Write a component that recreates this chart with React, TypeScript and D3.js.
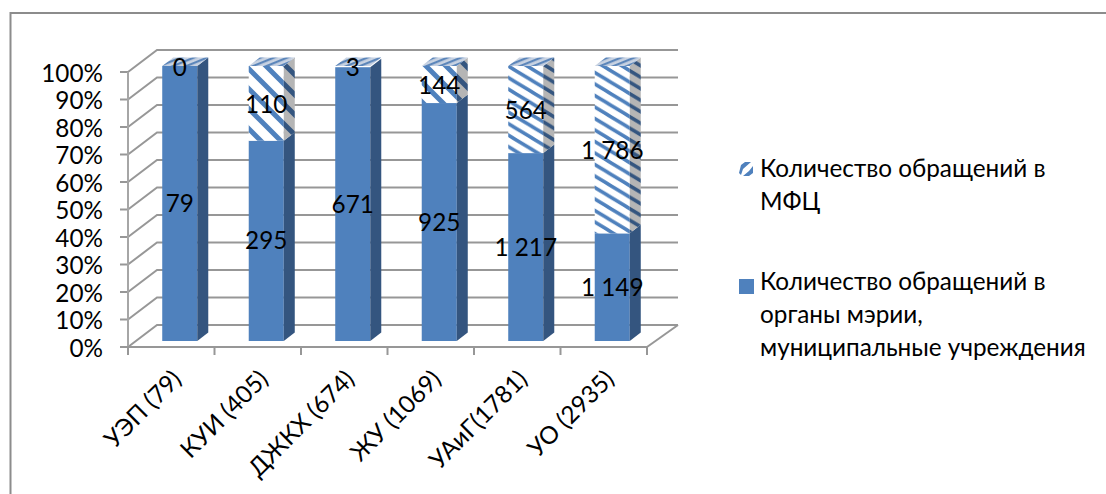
import { scaleBand, scaleLinear, stack, stackOffsetExpand, format } from 'd3'

// stacked 100% pseudo-3D columns, Excel style

const categories = ['УЭП (79)', 'КУИ (405)', 'ДЖКХ (674)', 'ЖУ (1069)', 'УАиГ(1781)', 'УО (2935)']
const organs = [79, 295, 671, 925, 1217, 1149]
const mfc = [0, 110, 3, 144, 564, 1786]
const yTicks = [0, 10, 20, 30, 40, 50, 60, 70, 80, 90, 100]
const legendMfc = ['Количество обращений в', 'МФЦ']
const legendOrgans = ['Количество обращений в', 'органы мэрии,', 'муниципальные учреждения']

const BLUE = '#4f81bd'
const SIDE = '#34557f'
const GRID = '#979797'
const FONT = 'Lato, Carlito, sans-serif'
const FS = 24.3

const WALL = { dx: 29, dy: -22 } // floor depth
const BAR = { dx: 11, dy: -8.5, ox: 8.5, oy: -6 } // bar depth and where it stands on the floor

const fmt = (v: number) => format(',')(v).replace(/,/g, ' ')

function stripes(w: number, h: number) {
  return `M${-w},${-h} L${2 * w},${2 * h} M${-w},0 L${w},${2 * h} M0,${-h} L${2 * w},${h}`
}

export default function App() {
  const x = scaleBand<string>().domain(categories).range([128, 647]).paddingInner(0.595).paddingOuter(0.2975)
  const y = scaleLinear().domain([0, 1]).range([347, 72])
  const band = 519 / categories.length

  const rows = categories.map((c, i) => ({ c, organs: organs[i], mfc: mfc[i] }))
  const series = stack<any>().keys(['organs', 'mfc']).offset(stackOffsetExpand)(rows)

  const ticksX = categories.map((_, i) => 128 + i * band).concat(647)

  return (
    <svg
      width={1106}
      height={494}
      style={{ position: 'absolute', left: 0, top: 0, background: '#fff' }}
      fontFamily={FONT}
    >
      <defs>
        {categories.map((c, i) => {
          // the hatch stretches with the segment, so short segments get wider stripes
          const w = i < 4 ? 20 : 19
          const h = i < 4 ? 20 : 11.5
          const sw = i < 4 ? 5 : 3.5
          return (
            <g key={c}>
              <pattern id={`h${i}`} width={w} height={h} patternUnits="userSpaceOnUse">
                <rect width={w} height={h} fill="#fff" />
                <path d={stripes(w, h)} stroke={BLUE} strokeWidth={sw} />
              </pattern>
              <pattern id={`s${i}`} width={w} height={h} patternUnits="userSpaceOnUse">
                <rect width={w} height={h} fill="#b5b5b5" />
                <path d={stripes(w, h)} stroke={SIDE} strokeWidth={sw} />
              </pattern>
            </g>
          )
        })}
        <pattern id="tophatch" width={9} height={5} patternUnits="userSpaceOnUse" patternTransform="rotate(-22)">
          <rect width={9} height={5} fill="#c9d3e2" />
          <rect width={9} height={2.2} fill="#5c86ba" />
        </pattern>
      </defs>

      {/* chart frame: only top and left edges show in the crop */}
      <path d="M10.5,494 V13 H1106" fill="none" stroke="#8c8c8c" strokeWidth={2} />

      {/* back wall gridlines, side wall diagonals, y axis ticks and labels */}
      {yTicks.map((t) => {
        const yy = y(t / 100)
        return (
          <g key={t}>
            <path
              d={`M${128},${yy} L${128 + WALL.dx},${yy + WALL.dy} H${647 + WALL.dx + 2}`}
              fill="none"
              stroke={GRID}
              strokeWidth={2}
            />
            <line x1={120} x2={128} y1={yy} y2={yy} stroke={GRID} strokeWidth={2} />
            <text x={103} y={yy} textAnchor="end" dominantBaseline="central" fontSize={FS} fill="#000">
              {t}%
            </text>
          </g>
        )
      })}

      {/* floor edge and category ticks */}
      <line x1={128} x2={128} y1={y(1)} y2={y(0)} stroke="#a6a6a6" strokeWidth={2} />
      <path
        d={`M${647},${y(0)} L${647 + WALL.dx + 2},${y(0) + WALL.dy}`}
        fill="none"
        stroke={GRID}
        strokeWidth={2}
      />
      <line x1={120} x2={647} y1={y(0)} y2={y(0)} stroke={GRID} strokeWidth={2} />
      {ticksX.map((tx, i) => (
        <line key={i} x1={tx} x2={tx} y1={y(0)} y2={y(0) + 8} stroke={GRID} strokeWidth={2} />
      ))}

      {/* columns */}
      {categories.map((c, i) => {
        const x0 = (x(c) ?? 0) + BAR.ox
        const w = x.bandwidth()
        const x1 = x0 + w
        const base = y(0) + BAR.oy
        const h = (v: number) => base - (y(0) - y(v))
        const split = h(series[0][i][1])
        const top = h(1)
        return (
          <g key={c}>
            <rect x={x0} y={split} width={w} height={base - split} fill={BLUE} />
            <path
              d={`M${x1},${base} l${BAR.dx},${BAR.dy} V${split + BAR.dy} L${x1},${split} Z`}
              fill={SIDE}
            />
            {mfc[i] > 5 && (
              <>
                <rect x={x0} y={top} width={w} height={split - top} fill={`url(#h${i})`} />
                <path
                  d={`M${x1},${split} l${BAR.dx},${BAR.dy} V${top + BAR.dy} L${x1},${top} Z`}
                  fill={`url(#s${i})`}
                />
              </>
            )}
            <path d={`M${x0},${top} l${BAR.dx},${BAR.dy} h${w} l${-BAR.dx},${-BAR.dy} Z`} fill="url(#tophatch)" />
            <text
              x={x0 + w / 2}
              y={(split + base) / 2 - 1}
              textAnchor="middle"
              dominantBaseline="central"
              fontSize={FS}
              fill="#000"
            >
              {fmt(organs[i])}
            </text>
            <text
              x={x0 + w / 2}
              y={(split + top) / 2}
              textAnchor="middle"
              dominantBaseline="central"
              fontSize={FS}
              fill="#000"
            >
              {fmt(mfc[i])}
            </text>
          </g>
        )
      })}

      {/* rotated category labels */}
      {categories.map((c, i) => {
        const lx = 128 + (i + 0.5) * band + 5
        const ly = 374
        return (
          <text
            key={c}
            x={lx}
            y={ly}
            textAnchor="end"
            dominantBaseline="central"
            fontSize={FS}
            fill="#000"
            transform={`rotate(-45, ${lx}, ${ly})`}
          >
            {c}
          </text>
        )
      })}

      {/* legend */}
      <path d="M739,173 L741,165 L745,162 L751,162 L743,169 L741,175 Z" fill={BLUE} />
      <path d="M753,166 L753,173 L749,176 L743,176 L749,171 Z" fill={BLUE} />
      <rect x={739} y={279} width={15} height={15} fill={BLUE} />
      {legendMfc.map((t, i) => (
        <text key={t} x={760} y={167.5 + i * 33} dominantBaseline="central" fontSize={FS} fill="#000">
          {t}
        </text>
      ))}
      {legendOrgans.map((t, i) => (
        <text key={t} x={760} y={280.5 + i * 33} dominantBaseline="central" fontSize={FS} fill="#000">
          {t}
        </text>
      ))}
    </svg>
  )
}
